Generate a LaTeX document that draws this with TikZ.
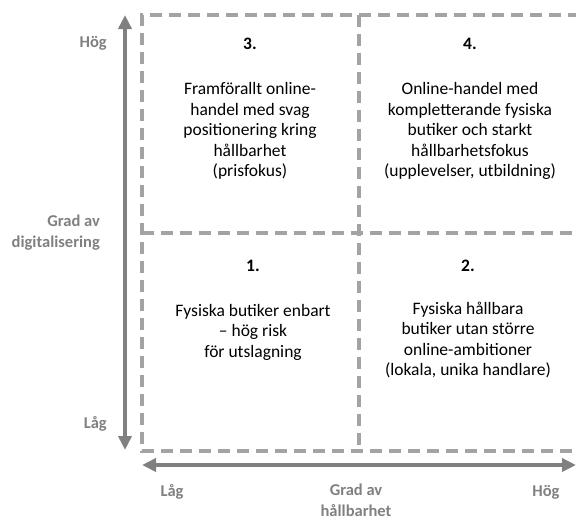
\documentclass[tikz,border=0pt]{standalone}
\usepackage{fontspec}
\setmainfont{Carlito}
\usepackage{tikz}
\usetikzlibrary{arrows.meta}
\definecolor{axis-gray}{gray}{0.5}
\definecolor{dash-gray}{gray}{0.64}

\begin{document}
\begin{tikzpicture}[x=1pt,y=-1pt,
	quadtext/.style={align=center, inner sep=0pt, font=\fontsize{17.5}{20.5}\selectfont},
	quadnum/.style={inner sep=0pt, font=\fontsize{17.5}{20.5}\selectfont\bfseries},
	axlabel/.style={inner sep=0pt, text=axis-gray, font=\fontsize{16.5}{21}\selectfont\bfseries},
	quadline/.style={dash-gray, line width=3.2pt, dash pattern=on 12pt off 7pt},
	axisarrow/.style={axis-gray, line width=4.7pt, {Triangle[length=14pt,width=13pt]}-{Triangle[length=14pt,width=13pt]}}]

			\useasboundingbox (0,0) rectangle (576,520);

			% corners of the matrix
			\coordinate (tl) at (142,15);
			\coordinate (bl) at (142,451);
			\coordinate (tr) at (580,15);
			\coordinate (br) at (580,451);
			\coordinate (tm) at (359,15);
			\coordinate (bm) at (359,451);
			\coordinate (ml) at (142,233);
			\coordinate (mr) at (580,233);

			% axis ends
			\coordinate (ytop) at (125,15);
			\coordinate (ybot) at (125,450);
			\coordinate (xleft) at (142,465);
			\coordinate (xright) at (576,465);

			\draw[quadline] (tr) -- (tl) -- (bl) -- (br);
			\draw[quadline] (tm) -- (bm);
			\draw[quadline] (ml) -- (mr);
%			\draw[quadline] (tr) -- (br);

			\draw[axisarrow] (ybot) -- (ytop);
			\draw[axisarrow] (xleft) -- (xright);

			% quadrants
			\node[quadnum] (n3) at (250,44) {3.};
			\node[quadtext] (q3) at (250,131) {Framförallt online-\\handel med svag\\positionering kring\\hållbarhet\\(prisfokus)};
			\node[quadnum] (n4) at (470,44) {4.};
			\node[quadtext] (q4) at (470,131) {Online-handel med\\kompletterande fysiska\\butiker och starkt\\hållbarhetsfokus\\(upplevelser, utbildning)};
			\node[quadnum] (n1) at (253,266) {1.};
			\node[quadtext] (q1) at (253,332) {Fysiska butiker enbart\\– hög risk\\för utslagning};
			\node[quadnum] (n2) at (468,266) {2.};
			\node[quadtext] (q2) at (468,340) {Fysiska hållbara\\butiker utan större\\online-ambitioner\\(lokala, unika handlare)};

			% axis labels
			\node[axlabel, anchor=east] (yhigh) at (107,43) {Hög};
			\node[axlabel, anchor=east, align=right] (ytitle) at (100,233) {Grad av\\digitalisering};
			\node[axlabel, anchor=east] (ylow) at (107,424) {Låg};
			\node[axlabel] (xlow) at (172,492) {Låg};
			\node[axlabel, align=center] (xtitle) at (356,500) {Grad av\\hållbarhet};
			\node[axlabel] (xhigh) at (546,492) {Hög};
		\end{tikzpicture}
\end{document}
